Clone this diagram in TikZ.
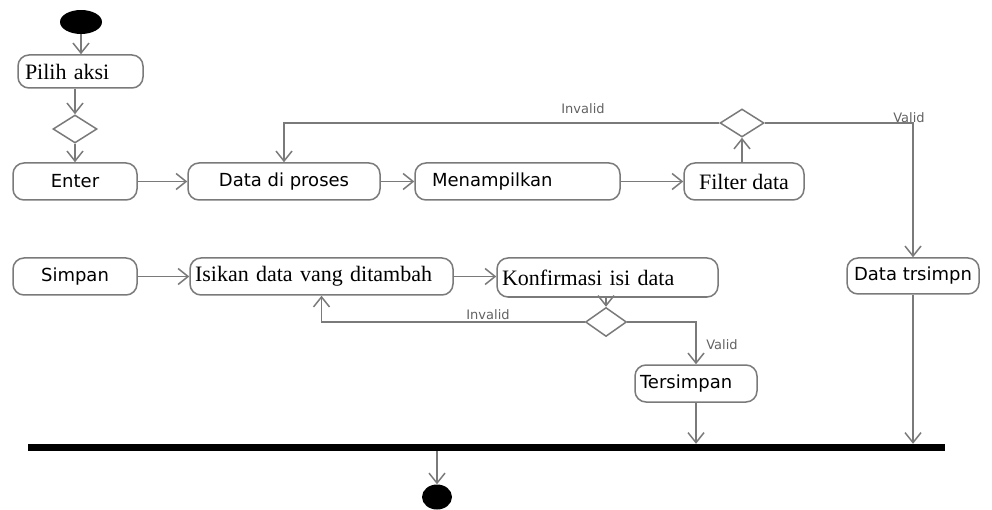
\documentclass[tikz,border=0pt]{standalone}
\usepackage{fontspec}
\setmainfont{Liberation Serif}
\newfontfamily\uisans{DejaVu Sans}
\usetikzlibrary{shapes.geometric,arrows.meta}
\definecolor{linegray}{HTML}{7A7A7A}
\definecolor{labelgray}{HTML}{626262}
\tikzset{
  flow/.style={draw=linegray, line width=1.5pt},
  arr/.style={flow, -{Straight Barb[length=10pt,width=16pt]}},
  act/.style={draw=linegray, line width=1.5pt, rounded corners=11pt, fill=white,
              minimum height=37pt, inner ysep=0pt},
  sanstext/.style={font=\uisans\fontsize{18pt}{20pt}\selectfont},
  seriftext/.style={font=\fontsize{22pt}{24pt}\selectfont},
  choice/.style={diamond, draw=linegray, line width=1.5pt, fill=white, inner sep=0pt,
                 minimum width=44pt, minimum height=28pt},
  guard/.style={font=\uisans\fontsize{13pt}{14pt}\selectfont, text=labelgray, inner sep=0pt},
  dot/.style={ellipse, fill=black, inner sep=0pt}
}
\begin{document}
\begin{tikzpicture}[x=1pt, y=-1pt]
\useasboundingbox (0,0) rectangle (992,510);

% start and first choice
\node[dot, minimum width=42pt, minimum height=24pt] (start) at (81,22) {};
\node[act, seriftext, minimum height=33pt, text width=111pt, inner xsep=7pt, align=left]
  (pilih) at (80.5,71.5) {Pilih aksi};
\node[choice] (d1) at (75,129) {};

% upper row
\node[act, sanstext, minimum width=124pt] (enter) at (75,181.5) {Enter};
\node[act, sanstext, minimum width=192pt] (proses) at (284,181.5) {Data di proses};
\node[act, sanstext, text width=171pt, inner xsep=17pt, align=left]
  (tampil) at (517.5,181.5) {Menampilkan};
\node[act, seriftext, minimum width=120pt] (filter) at (744,181.5) {Filter data};
\node[choice] (d2) at (742,123) {};
\node[act, sanstext, minimum width=132pt, minimum height=36pt] (trsimpn) at (913,276) {Data trsimpn};

% lower row
\node[act, sanstext, minimum width=124pt] (simpan) at (75,276.5) {Simpan};
\node[act, seriftext, text width=253pt, inner xsep=5pt, align=left]
  (isikan) at (321.5,276.5) {Isikan data vang ditambah};
\node[act, seriftext, minimum height=39pt, text width=211pt, inner xsep=5pt, align=left]
  (konfirm) at (607.5,277.5) {Konfirmasi isi data};
\node[choice, minimum width=41pt, minimum height=29pt] (d3) at (606,322) {};
\node[act, sanstext, text width=112pt, inner xsep=5pt, align=left]
  (tersimpan) at (696,383.5) {Tersimpan};

% join bar and final node
\node[rectangle, fill=black, minimum width=917pt, minimum height=7pt, inner sep=0pt]
  (bar) at (486.5,447.5) {};
\node[dot, minimum width=30pt, minimum height=25pt] (end) at (437,497) {};

% connectors
\draw[arr] (start.south) -- (start |- pilih.north);
\draw[arr] (d1 |- pilih.south) -- (d1.north);
\draw[arr] (d1.south) -- (enter.north);
\draw[arr] (enter.east) -- (proses.west);
\draw[arr] (proses.east) -- (tampil.west);
\draw[arr] (tampil.east) -- (filter.west);
\draw[arr] (d2 |- filter.north) -- (d2.south);
\draw[arr] (d2.west) -| (proses.north);
\draw[arr] (d2.east) -| (trsimpn.north);
\draw[arr] (trsimpn.south) -- (trsimpn.south |- bar.north);

\draw[arr] (simpan.east) -- (isikan.west);
\draw[arr] (isikan.east) -- (isikan.east -| konfirm.west);
\draw[arr] (d3 |- konfirm.south) -- (d3.north);
\draw[arr] (d3.west) -| (isikan.south);
\draw[arr] (d3.east) -| (tersimpan.north);
\draw[arr] (tersimpan.south) -- (tersimpan.south |- bar.north);

\draw[arr] (bar.south -| end) -- (end.north);

% guard labels
\node[guard] (g1) at (583,109) {Invalid};
\node[guard] (g2) at (909,118) {Valid};
\node[guard] (g3) at (488,315) {Invalid};
\node[guard] (g4) at (722,345) {Valid};
\end{tikzpicture}
\end{document}
